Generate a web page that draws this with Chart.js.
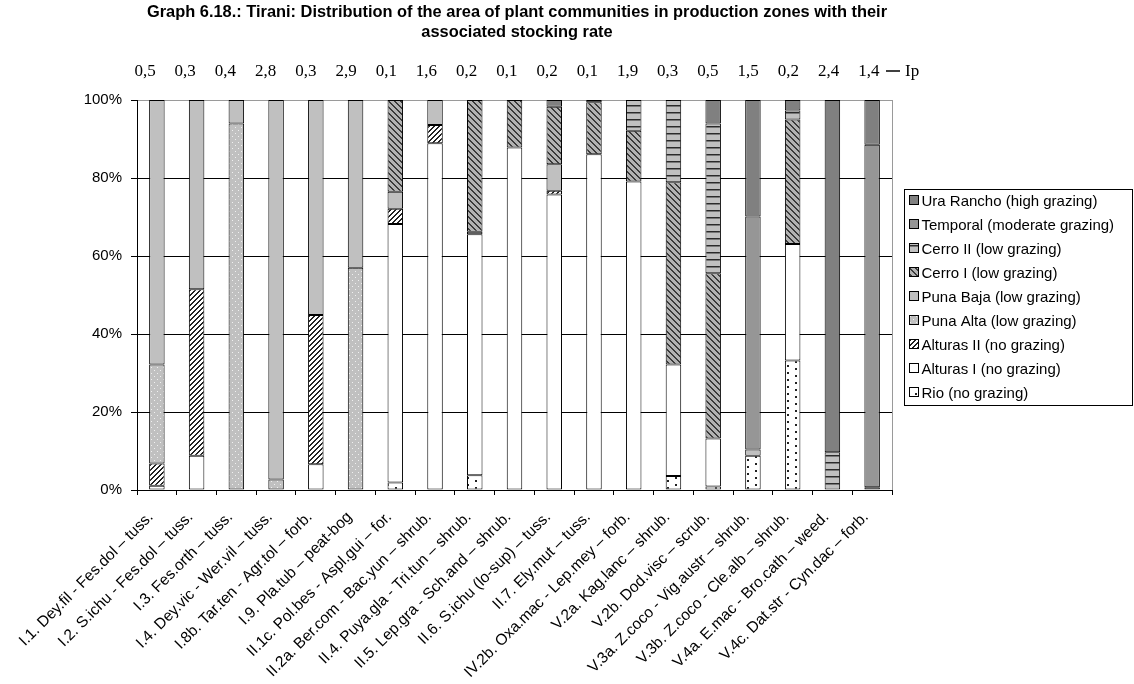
<!DOCTYPE html>
<html>
<head>
<meta charset="utf-8">
<script src="https://cdn.jsdelivr.net/npm/chart.js@4.4.1/dist/chart.umd.min.js"></script>
<style>
  html, body { margin: 0; padding: 0; background: #fff; }
  canvas { display: block; }
</style>
</head>
<body>
<canvas id="chart" width="1134" height="684"></canvas>
<script>
const communities = [
  'I.1. Dey.fil - Fes.dol – tuss.',
  'I.2. S.ichu - Fes.dol – tuss.',
  'I.3. Fes.orth – tuss.',
  'I.4. Dey.vic - Wer.vil – tuss.',
  'I.8b. Tar.ten - Agr.tol – forb.',
  'I.9. Pla.tub – peat-bog',
  'II.1c. Pol.bes - Aspl.gui – for.',
  'II.2a. Ber.com - Bac.yun – shrub.',
  'II.4. Puya.gla - Tri.tun – shrub.',
  'II.5. Lep.gra - Sch.and – shrub.',
  'II.6. S.ichu (lo-sup) – tuss.',
  'II.7. Ely.mut – tuss.',
  'IV.2b. Oxa.mac - Lep.mey – forb.',
  'V.2a. Kag.lanc – shrub.',
  'V.2b. Dod.visc – scrub.',
  'V.3a. Z.coco - Vig.austr – shrub.',
  'V.3b. Z.coco - Cle.alb – shrub.',
  'V.4a. E.mac - Bro.cath – weed.',
  'V.4c. Dat.str - Cyn.dac – forb.'
];

// stocking rate per community
const ipValues = [0.5, 0.3, 0.4, 2.8, 0.3, 2.9, 0.1, 1.6, 0.2, 0.1, 0.2, 0.1, 1.9, 0.3, 0.5, 1.5, 0.2, 2.4, 1.4];

// % of area per production zone (bottom of the stack first)
const rio        = [0, 0, 0, 0, 0, 0, 1.9, 0, 3.8, 0, 0, 0, 0, 3.6, 0.9, 8.8, 33.2, 0, 0];
const alturasI   = [1.1, 8.8, 0, 0, 6.6, 0, 66.3, 88.9, 61.8, 87.8, 75.8, 86.1, 79.1, 28.6, 12.3, 0, 29.9, 0, 0];
const alturasII  = [5.7, 42.7, 0, 0, 38.3, 0, 3.9, 4.7, 0, 0, 0.9, 0, 0, 0, 0, 0, 0, 0, 0];
const punaAlta   = [25.4, 0, 94.0, 2.7, 0, 57.0, 0, 0, 0, 0, 0, 0, 0, 0, 0, 0, 0, 0, 0];
const punaBaja   = [67.8, 48.5, 6.0, 97.3, 55.1, 43.0, 4.4, 6.4, 0.6, 0, 6.8, 0, 0, 0, 0, 0, 0, 0, 0];
const cerroI     = [0, 0, 0, 0, 0, 0, 23.5, 0, 33.8, 12.2, 14.8, 13.3, 13.0, 46.7, 42.4, 0, 31.9, 0, 0];
const cerroII    = [0, 0, 0, 0, 0, 0, 0, 0, 0, 0, 0, 0, 7.9, 21.1, 38.4, 1.6, 2.3, 9.7, 0.7];
const temporal   = [0, 0, 0, 0, 0, 0, 0, 0, 0, 0, 0, 0, 0, 0, 0, 59.7, 0, 0, 87.8];
const uraRancho  = [0, 0, 0, 0, 0, 0, 0, 0, 0, 0, 1.7, 0.6, 0, 0, 6.0, 29.9, 2.7, 90.3, 11.5];

const yTicks = [0, 20, 40, 60, 80, 100];

// small tiled fills, like the old spreadsheet patterns
function tile(w, h, bg, paint) {
  const c = document.createElement('canvas');
  c.width = w; c.height = h;
  const g = c.getContext('2d');
  g.fillStyle = bg;
  g.fillRect(0, 0, w, h);
  g.fillStyle = '#000';
  paint(g, w, h);
  return g.createPattern(c, 'repeat');
}

const fills = {
  rio: tile(16, 7, '#fff', g => { g.fillStyle = '#222'; g.fillRect(3, 1, 2, 2); g.fillRect(11, 4, 2, 2); }),
  alturasI: '#fff',
  alturasII: tile(5, 5, '#fff', (g, n) => {
    g.fillStyle = '#222';
    for (let i = 0; i < n; i++) { g.fillRect(i, n - 1 - i, 1, 1); g.fillRect(i, (n - i) % n, 1, 1); }
  }),
  punaAlta: tile(6, 6, '#c0c0c0', g => { g.fillStyle = '#f0f0f0'; g.fillRect(1, 1, 1, 1); g.fillRect(4, 4, 1, 1); }),
  punaBaja: '#c0c0c0',
  cerroI: tile(6, 6, '#b2b2b2', (g, n) => {
    g.fillStyle = '#3a3a3a';
    for (let i = 0; i < n; i++) { g.fillRect(i, i, 1, 1); g.fillRect(i, (i + 1) % n, 1, 1); }
  }),
  cerroII: tile(4, 7, '#c0c0c0', g => { g.fillStyle = '#2a2a2a'; g.fillRect(0, 0, 4, 1); g.fillStyle = '#777'; g.fillRect(0, 1, 4, 1); }),
  temporal: '#969696',
  uraRancho: '#808080'
};

const series = [
  ['Rio (no grazing)', rio, fills.rio],
  ['Alturas I (no grazing)', alturasI, fills.alturasI],
  ['Alturas II (no grazing)', alturasII, fills.alturasII],
  ['Puna Alta (low grazing)', punaAlta, fills.punaAlta],
  ['Puna Baja (low grazing)', punaBaja, fills.punaBaja],
  ['Cerro I (low grazing)', cerroI, fills.cerroI],
  ['Cerro II (low grazing)', cerroII, fills.cerroII],
  ['Temporal (moderate grazing)', temporal, fills.temporal],
  ['Ura Rancho (high grazing)', uraRancho, fills.uraRancho]
];

const datasets = series.map(([label, values, fill]) => ({
  label,
  data: values.map(v => v > 0 ? v : null),
  backgroundColor: fill,
  borderColor: '#000',
  borderWidth: 1,
  borderSkipped: false,
  barPercentage: 0.39,
  categoryPercentage: 1
}));

const SANS = '"Liberation Sans", Arial, sans-serif';
const SERIF = '"Liberation Serif", "Times New Roman", serif';

// title, Ip row, frame and the boxed legend
const decorations = {
  id: 'decorations',
  afterDraw(chart) {
    const ctx = chart.ctx;
    const area = chart.chartArea;
    ctx.save();

    ctx.fillStyle = '#000';
    ctx.font = 'bold 16.4px ' + SANS;
    ctx.textAlign = 'center';
    ctx.textBaseline = 'middle';
    ctx.fillText('Graph 6.18.: Tirani: Distribution of the area of plant communities in production zones with their', 517, 12);
    ctx.fillText('associated stocking rate', 517, 32);

    // stocking rate row
    ctx.font = '17px ' + SERIF;
    const step = (area.right - area.left + 9) / communities.length;
    ipValues.forEach((v, i) => {
      ctx.fillText(v.toFixed(1).replace('.', ','), area.left + 8 + i * step, 72);
    });
    ctx.strokeStyle = '#000';
    ctx.lineWidth = 1.5;
    ctx.beginPath();
    ctx.moveTo(886, 71);
    ctx.lineTo(900, 71);
    ctx.stroke();
    ctx.textAlign = 'left';
    ctx.fillText('Ip', 905, 72);

    // right edge of the plot frame
    ctx.strokeStyle = '#9a9a9a';
    ctx.lineWidth = 1;
    ctx.beginPath();
    ctx.moveTo(Math.round(area.right) + 0.5, area.top);
    ctx.lineTo(Math.round(area.right) + 0.5, area.bottom);
    ctx.stroke();

    // legend, top entry is the top of the stack
    const lx = 904.5, ly = 189.5, lw = 228, lh = 216, rowH = 24;
    ctx.fillStyle = '#fff';
    ctx.fillRect(lx, ly, lw, lh);
    ctx.strokeStyle = '#000';
    ctx.strokeRect(lx, ly, lw, lh);
    ctx.font = '15px ' + SANS;
    ctx.textBaseline = 'middle';
    const items = chart.data.datasets.slice().reverse();
    items.forEach((ds, k) => {
      const cy = ly + 11 + k * rowH;
      ctx.fillStyle = ds.backgroundColor;
      ctx.fillRect(lx + 5, cy - 5, 9, 9);
      ctx.strokeStyle = '#000';
      ctx.strokeRect(lx + 5, cy - 5, 9, 9);
      ctx.fillStyle = '#000';
      ctx.fillText(ds.label, lx + 17, cy + 1);
    });

    ctx.restore();
  }
};

new Chart(document.getElementById('chart'), {
  type: 'bar',
  data: { labels: communities, datasets },
  options: {
    responsive: false,
    animation: false,
    events: [],
    layout: { padding: { top: 100, right: 242, left: 0, bottom: 0 } },
    plugins: {
      legend: { display: false },
      title: { display: false },
      tooltip: { enabled: false }
    },
    scales: {
      x: {
        stacked: true,
        afterFit(scale) { scale.height = 194; },
        grid: { offset: true, drawOnChartArea: false, drawTicks: true, tickLength: 5, tickColor: '#000' },
        border: { color: '#000', width: 1 },
        ticks: {
          color: '#000',
          font: { family: SANS, size: 15.5 },
          minRotation: 45,
          maxRotation: 45,
          autoSkip: false,
          padding: 13,
          labelOffset: -6
        }
      },
      y: {
        stacked: true,
        min: 0,
        max: 100,
        afterFit(scale) { scale.width = 137; },
        afterBuildTicks(scale) { scale.ticks = yTicks.map(v => ({ value: v })); },
        grid: {
          color: c => c.tick && c.tick.value === 100 ? '#9a9a9a' : '#000',
          tickColor: '#000',
          tickLength: 6,
          lineWidth: 1
        },
        border: { color: '#000', width: 1 },
        ticks: {
          color: '#000',
          font: { family: SANS, size: 15 },
          padding: 9,
          callback: v => v + '%'
        }
      }
    }
  },
  plugins: [decorations]
});
</script>
</body>
</html>
